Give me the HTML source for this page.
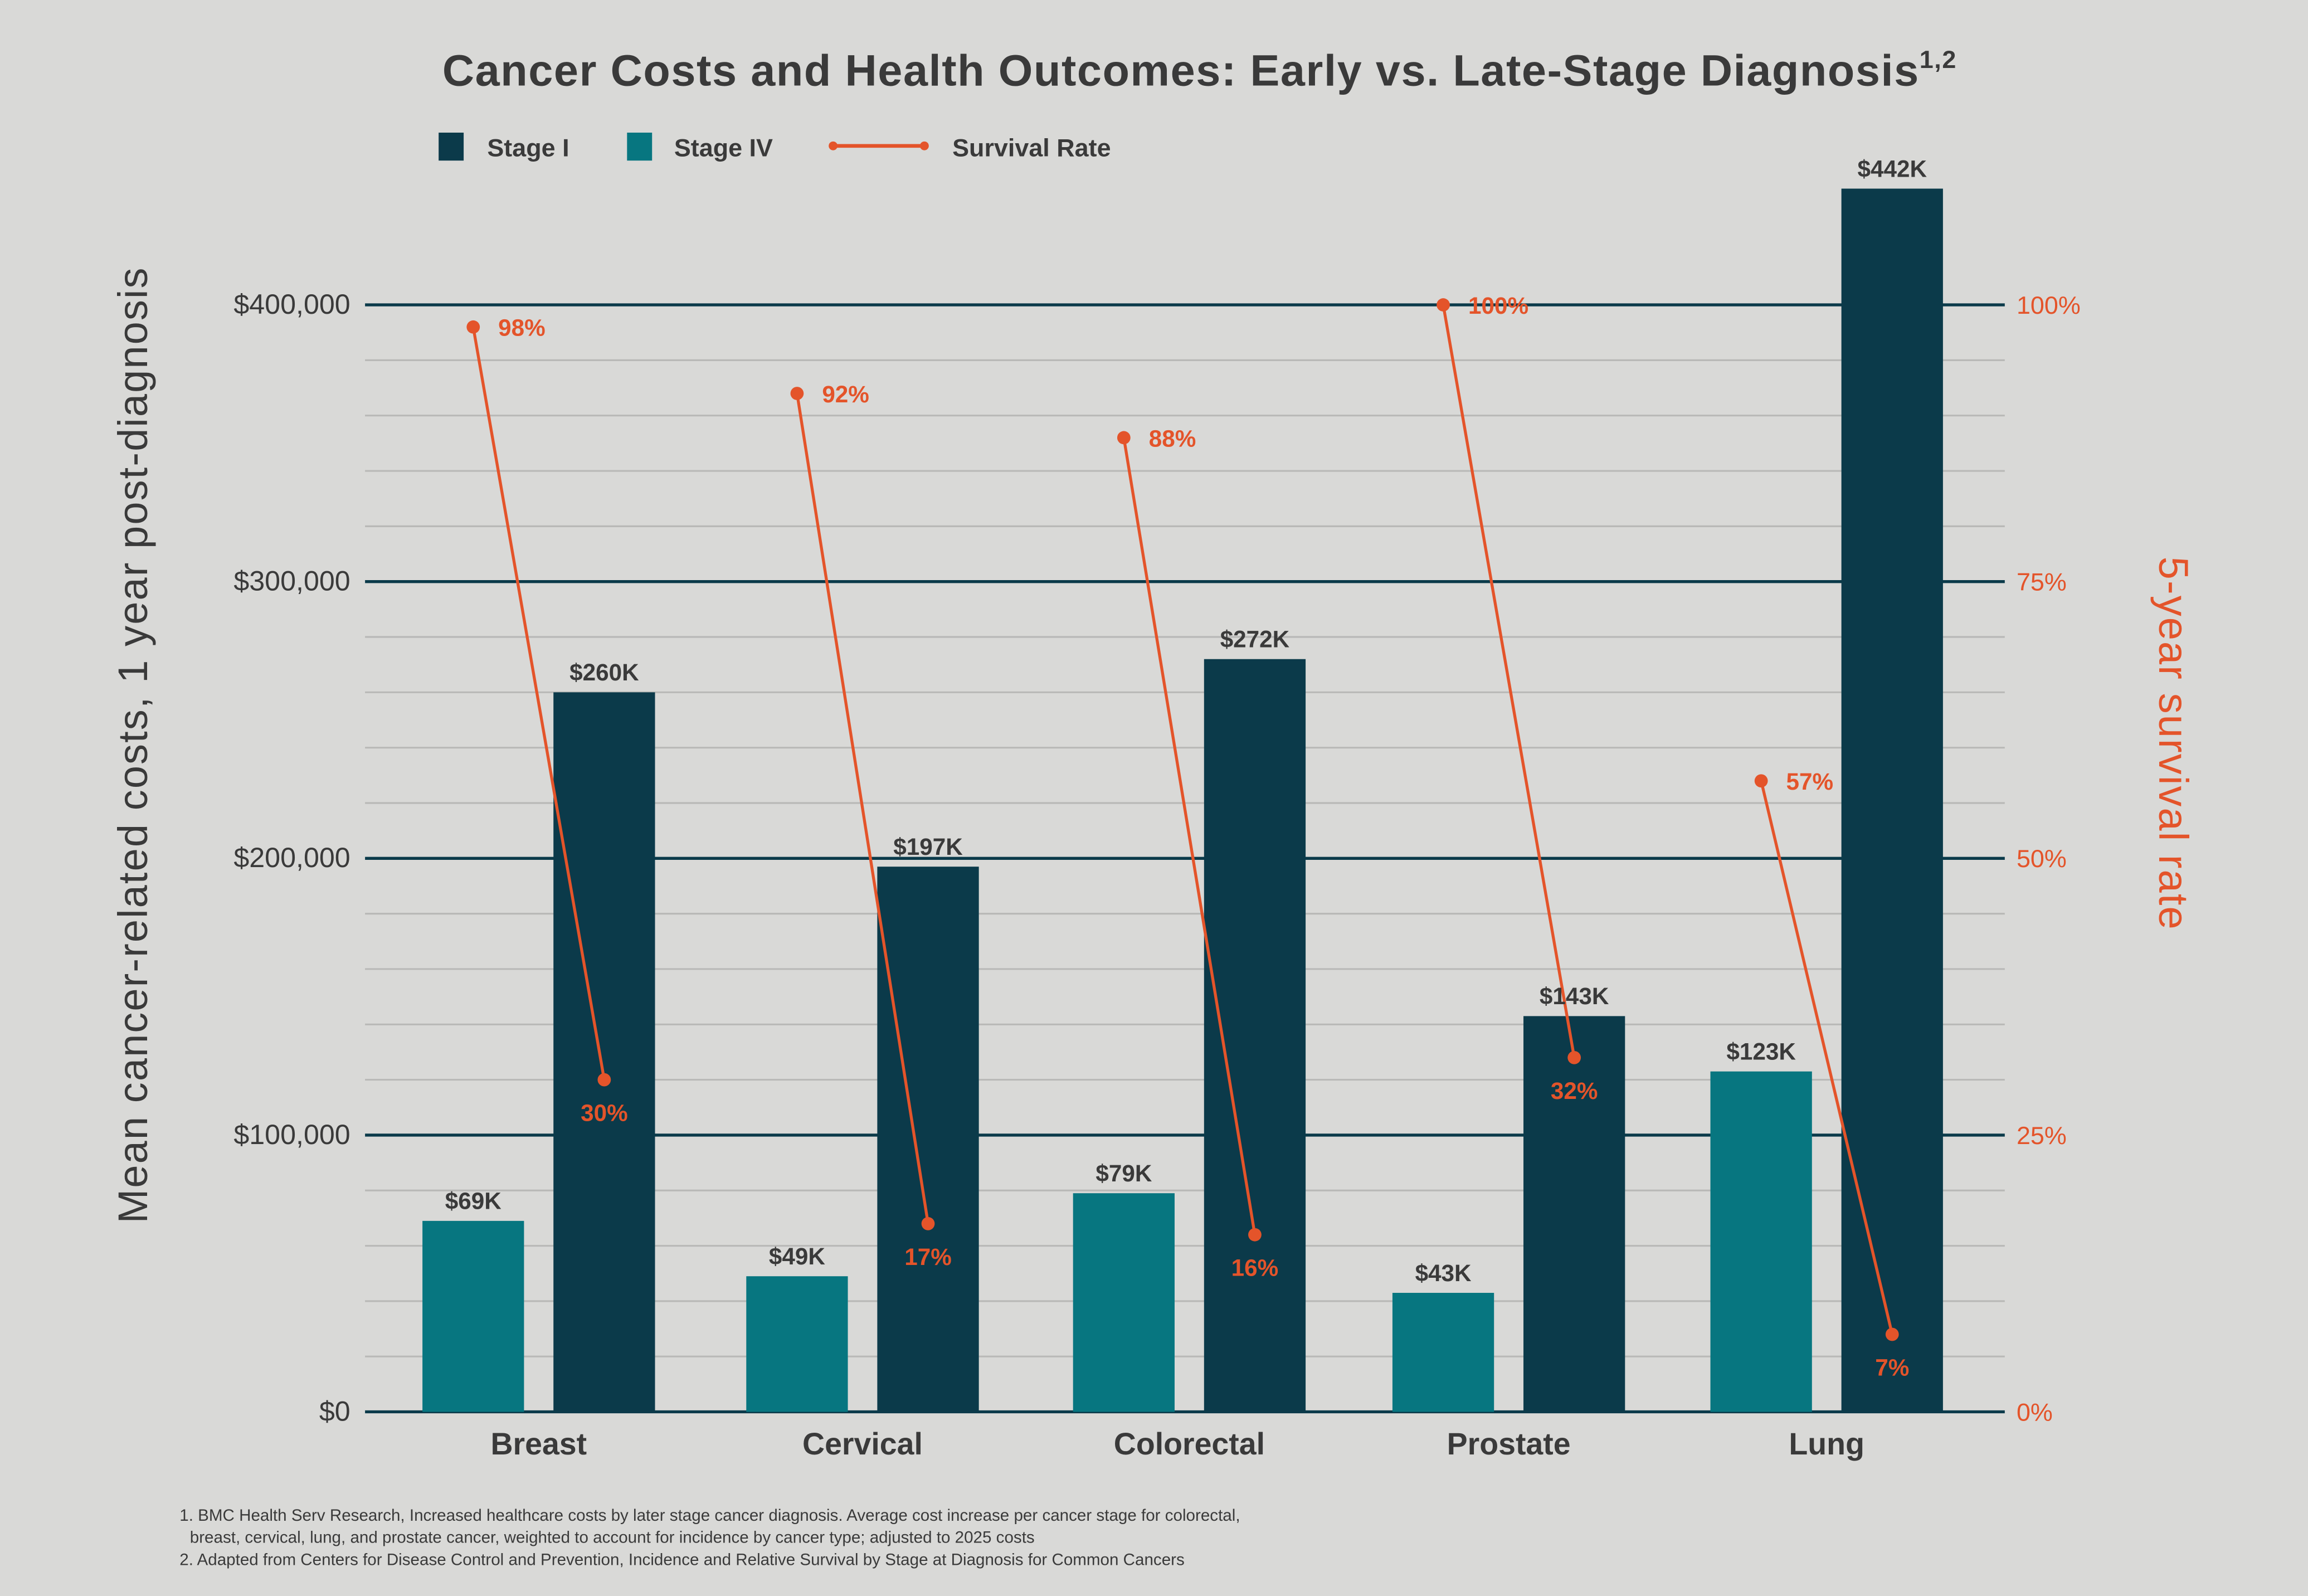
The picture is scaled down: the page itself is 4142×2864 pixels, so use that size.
<!DOCTYPE html>
<html><head><meta charset="utf-8"><style>
html,body{margin:0;padding:0;background:#d9d9d7;}
svg{display:block;font-family:"Liberation Sans",sans-serif;}
</style></head><body>
<svg id="chart" width="4142" height="2864" viewBox="0 0 1568 1084" xmlns="http://www.w3.org/2000/svg">
<rect width="1568" height="1084" fill="#d9d9d7"/>
<text x="815" y="58" text-anchor="middle" font-size="30" font-weight="bold" letter-spacing="0.6" fill="#3a3a3a">Cancer Costs and Health Outcomes: Early vs. Late-Stage Diagnosis<tspan font-size="17" dy="-12">1,2</tspan></text>
<g>
<rect x="298" y="90" width="17" height="19" fill="#0b3a4a"/>
<text x="331" y="106" font-size="17" font-weight="bold" fill="#3a3a3a">Stage I</text>
<rect x="426" y="90" width="17" height="19" fill="#077680"/>
<text x="458" y="106" font-size="17" font-weight="bold" fill="#3a3a3a">Stage IV</text>
<line x1="566" y1="99" x2="628" y2="99" stroke="#e4542a" stroke-width="2.5"/>
<circle cx="566" cy="99" r="3" fill="#e4542a"/>
<circle cx="628" cy="99" r="3" fill="#e4542a"/>
<text x="647" y="106" font-size="17" font-weight="bold" fill="#3a3a3a">Survival Rate</text>
</g>
<g id="grid"></g><g id="bars"></g><g id="lines"></g><g id="labels"></g>
<text transform="translate(100,506) rotate(-90)" text-anchor="middle" font-size="28" letter-spacing="0.8" fill="#3a3a3a">Mean cancer-related costs, 1 year post-diagnosis</text>
<text transform="translate(1467,505) rotate(90)" text-anchor="middle" font-size="28" letter-spacing="0.8" fill="#e4542a">5-year survival rate</text>
<g font-size="11.2" fill="#3a3a3a">
<text x="122" y="1033">1. BMC Health Serv Research, Increased healthcare costs by later stage cancer diagnosis. Average cost increase per cancer stage for colorectal,</text>
<text x="129" y="1048">breast, cervical, lung, and prostate cancer, weighted to account for incidence by cancer type; adjusted to 2025 costs</text>
<text x="122" y="1063">2. Adapted from Centers for Disease Control and Prevention, Incidence and Relative Survival by Stage at Diagnosis for Common Cancers</text>
</g>
</svg>
<script>
const categories = ["Breast","Cervical","Colorectal","Prostate","Lung"];
const tealCosts = [69,49,79,43,123];
const darkCosts = [260,197,272,143,442];
const survivalEarly = [98,92,88,100,57];
const survivalLate = [30,17,16,32,7];
const leftTicks = [0,100000,200000,300000,400000];
const rightTicks = [0,25,50,75,100];

const NS="http://www.w3.org/2000/svg";
const X0=248,X1=1362,YB=959,YT=207;
const yCost=v=>YB-(v/400)*(YB-YT);
const yPct=p=>YB-(p/100)*(YB-YT);
const groupCenters=[366,586,808,1025,1241];
const xCat=i=>groupCenters[i];
function mk(tag,attrs,parent,txt){const e=document.createElementNS(NS,tag);for(const k in attrs)e.setAttribute(k,attrs[k]);if(txt!==undefined)e.textContent=txt;document.getElementById(parent).appendChild(e);return e;}

for(let v=0;v<=400;v+=20){
  if(v%100===0)continue;
  const g=mk('line',{x1:X0,x2:X1,y1:yCost(v),y2:yCost(v),stroke:'#b9b9b7','stroke-width':1.2},'grid');
  
  
}
leftTicks.forEach((t,i)=>{
  const y=yCost(t/1000);
  const l=mk('line',{x1:X0,x2:X1,y1:y,y2:y,stroke:'#0b3a4a','stroke-width':2},'grid');
  
  
  const tx=mk('text',{x:238,y:y+6,'text-anchor':'end','font-size':19,fill:'#3a3a3a'},'labels','$'+t.toLocaleString('en-US'));
  
  
});
rightTicks.forEach(p=>{
  const tx=mk('text',{x:1370,y:yPct(p)+6,'font-size':17,fill:'#e4542a'},'labels',p+'%');
  
  
});
const BW=69;
categories.forEach((c,i)=>{
  const cx=xCat(i);
  const tx=cx-44.5-BW/2, dx=cx+44.5-BW/2;
  const b1=mk('rect',{x:tx,y:yCost(tealCosts[i]),width:BW,height:YB-yCost(tealCosts[i]),fill:'#077680'},'bars');
  
  
  const b2=mk('rect',{x:dx,y:yCost(darkCosts[i]),width:BW,height:YB-yCost(darkCosts[i]),fill:'#0b3a4a'},'bars');
  
  
  const l1=mk('text',{x:tx+BW/2,y:yCost(tealCosts[i])-8,'text-anchor':'middle','font-size':16,'font-weight':'bold',fill:'#3a3a3a'},'labels','$'+tealCosts[i]+'K');
  
  
  const l2=mk('text',{x:dx+BW/2,y:yCost(darkCosts[i])-8,'text-anchor':'middle','font-size':16,'font-weight':'bold',fill:'#3a3a3a'},'labels','$'+darkCosts[i]+'K');
  
  
  const cl=mk('text',{x:cx,y:988,'text-anchor':'middle','font-size':21,'font-weight':'bold',fill:'#3a3a3a'},'labels',c);
  
  
  const px1=tx+BW/2, px2=dx+BW/2, py1=yPct(survivalEarly[i]), py2=yPct(survivalLate[i]);
  const ln=mk('line',{x1:px1,y1:py1,x2:px2,y2:py2,stroke:'#e4542a','stroke-width':2},'lines');
  
  
  const d1=mk('circle',{cx:px1,cy:py1,r:4.5,fill:'#e4542a'},'lines');
  
  
  const d2=mk('circle',{cx:px2,cy:py2,r:4.5,fill:'#e4542a'},'lines');
  
  
  const s1=mk('text',{x:px1+17,y:py1+6,'font-size':16,'font-weight':'bold',fill:'#e4542a'},'labels',survivalEarly[i]+'%');
  
  
  const s2=mk('text',{x:px2,y:py2+28,'text-anchor':'middle','font-size':16,'font-weight':'bold',fill:'#e4542a'},'labels',survivalLate[i]+'%');
  
  
});
</script>
</body></html>
